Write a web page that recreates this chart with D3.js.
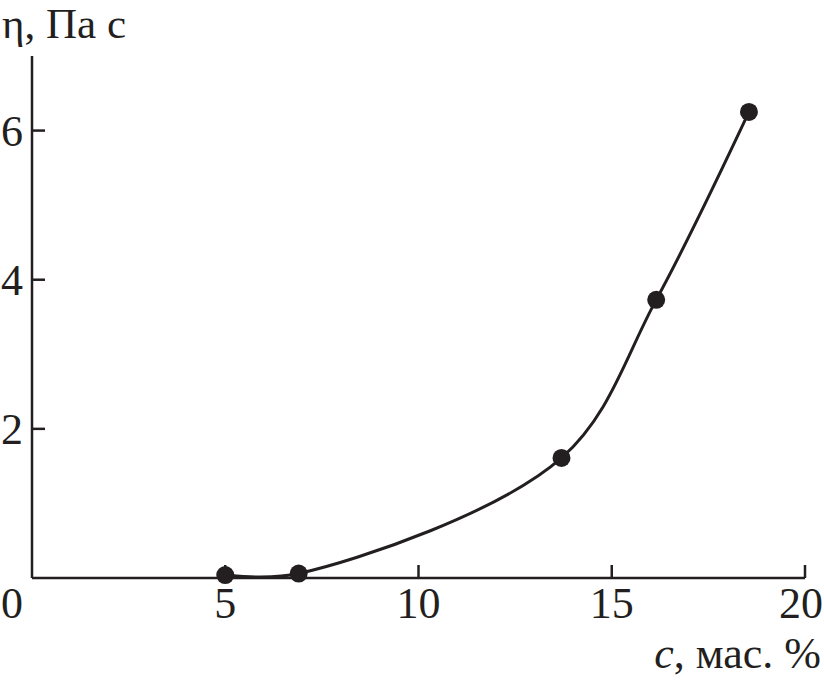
<!DOCTYPE html>
<html><head><meta charset="utf-8">
<script src="https://cdn.jsdelivr.net/npm/d3@7"></script>
<style>body{margin:0;background:#fff}svg{display:block}text{font-family:"Liberation Serif","DejaVu Serif",serif;fill:#231f20}</style>
</head><body>
<script>
const concentration = [5.0, 6.9, 13.7, 16.15, 18.55];
const viscosity = [0.04, 0.06, 1.61, 3.73, 6.25];
const xTicks = [0, 5, 10, 15, 20];
const yTicks = [2, 4, 6];
const yLabel = "η, Па с";
const xLabelItalic = "c";
const xLabelRest = ", мас. %";

const W = 824, H = 681;
const svg = d3.select("body").append("svg").attr("width", W).attr("height", H);
const x = d3.scaleLinear().domain([0, 20]).range([32, 805]);
const y = d3.scaleLinear().domain([0, 7]).range([578, 56]);
const ink = "#231f20";
const fs = 44;

svg.append("line").attr("x1", x(0)).attr("x2", x(20)).attr("y1", y(0)).attr("y2", y(0)).attr("stroke", ink).attr("stroke-width", 2.5);
svg.append("line").attr("x1", x(0)).attr("x2", x(0)).attr("y1", y(0)).attr("y2", y(7)).attr("stroke", ink).attr("stroke-width", 2.5);

svg.selectAll(".xt").data(xTicks.filter(d => d > 0)).enter().append("line")
  .attr("x1", d => x(d)).attr("x2", d => x(d)).attr("y1", y(0)).attr("y2", y(0) - 13)
  .attr("stroke", ink).attr("stroke-width", 2.5);
svg.selectAll(".xl").data(xTicks).enter().append("text")
  .attr("x", d => d === 0 ? 1 : (d === 20 ? 823 : x(d)))
  .attr("y", 618)
  .attr("text-anchor", d => d === 0 ? "start" : (d === 20 ? "end" : "middle"))
  .attr("font-size", fs).text(d => d);

svg.selectAll(".yt").data(yTicks).enter().append("line")
  .attr("x1", x(0)).attr("x2", x(0) + 13).attr("y1", d => y(d)).attr("y2", d => y(d))
  .attr("stroke", ink).attr("stroke-width", 2.5);
svg.selectAll(".yl").data(yTicks).enter().append("text")
  .attr("x", 23).attr("y", d => y(d) + 15).attr("text-anchor", "end")
  .attr("font-size", fs).text(d => d);

svg.append("text").attr("x", 2).attr("y", 38).attr("font-size", 43).text(yLabel);
const xl = svg.append("text").attr("x", 821).attr("y", 668).attr("text-anchor", "end").attr("font-size", fs);
xl.append("tspan").attr("font-style", "italic").text(xLabelItalic);
xl.append("tspan").text(xLabelRest);

const pts = concentration.map((c, i) => [c, viscosity[i]]);
const line = d3.line().x(d => x(d[0])).y(d => y(d[1])).curve(d3.curveCatmullRom.alpha(0.5));
svg.append("path").attr("d", line(pts)).attr("fill", "none").attr("stroke", ink).attr("stroke-width", 3);

svg.selectAll(".pt").data(pts).enter().append("circle")
  .attr("cx", d => x(d[0])).attr("cy", d => y(d[1])).attr("r", 9).attr("fill", ink);
</script>
</body></html>
